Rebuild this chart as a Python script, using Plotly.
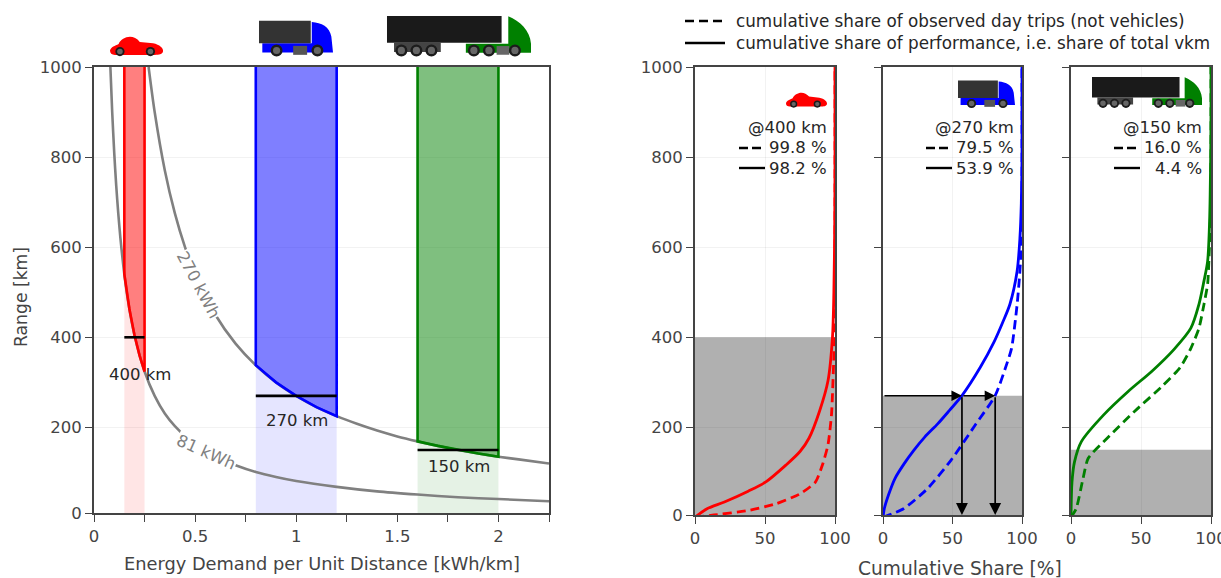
import plotly.graph_objects as go

W, H = 1221, 578
FONT = "DejaVu Sans"
AXC = "#444444"
TXT = "#262626"
GRID = "rgba(0,0,0,0.05)"

# ---------- data ----------
curve_270_x = [0.27,0.3,0.35,0.4,0.45,0.5,0.6,0.7,0.8,0.9,1.0,1.1,1.2,1.3,1.4,1.5,1.6,1.7,1.8,1.9,2.0,2.1,2.25]
curve_270_y = [1000,900,771,675,600,540,450,386,338,300,270,245,225,208,193,180,169,159,150,142,135,129,120]
curve_81_x = [0.081,0.09,0.1,0.11,0.12,0.13,0.15,0.17,0.2,0.25,0.3,0.35,0.4,0.5,0.6,0.7,0.8,0.9,1.0,1.2,1.4,1.6,1.8,2.0,2.25]
curve_81_y = [1000,900,810,736,675,623,540,476,405,324,270,231,203,162,135,116,101,90,81,68,58,51,45,41,36]

car_band_x = [0.15,0.15,0.175,0.2,0.225,0.25,0.25]
car_band_y = [1000,540,463,405,360,324,1000]
truck_band_x = [0.8,0.8,0.9,1.0,1.1,1.2,1.2]
truck_band_y = [1000,338,300,270,245,225,1000]
semi_band_x = [1.6,1.6,1.7,1.8,1.9,2.0,2.0]
semi_band_y = [1000,169,159,150,142,135,1000]

ranges_km = [400, 270, 150]
range_spans = [(0.15,0.25),(0.8,1.2),(1.6,2.0)]
colors = ["#ff0000","#0000ff","#008000"]

car_perf_x = [0,8.6,21,38,50.6,65,75,81.5,89,95,98.2,99.2,99.8,100,100]
car_perf_y = [0,19,34,58,78.5,116,146,176,236,303,400,500,650,800,1000]
car_trip_x = [0,13.5,38,58,75,86,91,95,97.5,99,99.8,100,100]
car_trip_y = [0,5,15,30,52,78,116,161,228,340,400,500,1000]

truck_perf_x = [0,1,4,8.6,15,22,30,39.5,48,56.8,70,80,86,91.3,96.5,98.5,99.5,100,100]
truck_perf_y = [0,20,50,86,118,148,178,208,238,270,333,390,432,473,547,620,696,800,1000]
truck_trip_x = [0,14.8,32,49,66.6,80.7,89,92.5,96.5,98.5,99.7,100,100]
truck_trip_y = [0,19,63.5,127,206,270,340,375,473,547,620,720,1000]

semi_perf_x = [0,0.7,2.5,7.4,23.5,41,58,73.6,85.6,91.4,95,97.6,99,99.8,100,100]
semi_perf_y = [0,78,123,168,228,280,325,373,420,473,525,569,658,810,900,1000]
semi_trip_x = [0,3.7,8.6,12.3,26,45.7,65.4,78,85.6,91.4,95,97.6,98.5,99.5,100,100]
semi_trip_y = [0,19,86,131,176,236,292,333,375,420,473,518,569,658,800,1000]

trip_share = ["99.8 %","79.5 %","16.0 %"]
perf_share = ["98.2 %","53.9 %","4.4 %"]

arrow_xs = [56.8, 80.7]
arrow_y = 270

left_xticks = [0,0.25,0.5,0.75,1,1.25,1.5,1.75,2,2.25]
left_xlabels = ["0","","0.5","","1","","1.5","","2",""]
y_labels = ["0","200","400","600","800","1000"]
left_y_ticks = [10,200,400,600,800,1000]    # the reference's lowest tick sits at the cut-off axis foot
share_y_ticks = [5,200,400,600,800,1000]
share_ticks = [0,50,100]

# ---------- helpers ----------
def px(x): return x / W
def py(y): return 1 - y / H

def rgba(hexc, a):
    return "rgba(%d,%d,%d,%s)" % (int(hexc[1:3],16), int(hexc[3:5],16), int(hexc[5:7],16), a)

fig = go.Figure()
shapes, annots = [], []

def text(x, y, s, size=16.5, anchor="center", color=TXT, angle=0, bg=None):
    annots.append(dict(xref="paper", yref="paper", x=px(x), y=py(y), text=s, showarrow=False,
                       xanchor=anchor, yanchor="middle", textangle=angle,
                       font=dict(family=FONT, size=size, color=color),
                       bgcolor=bg, borderpad=0))

def pline(x0, x1, y, dash=None, width=2.4):
    shapes.append(dict(type="line", xref="paper", yref="paper", x0=px(x0), x1=px(x1),
                       y0=py(y), y1=py(y), layer="above",
                       line=dict(color="black", width=width, dash=dash)))

class Icon:
    def __init__(self, ox, oy, scale, sx, sy):
        self.ox, self.oy, self.s, self.sx, self.sy = ox, oy, scale, sx, sy
    def X(self, v): return px(self.ox + (v - self.sx) * self.s)
    def Y(self, v): return py(self.oy + (v - self.sy) * self.s)
    def path(self, cmds, fill):
        out = []
        for c in cmds:
            out.append(c[0] + " " + " ".join(
                "%.5f,%.5f" % (self.X(c[i]), self.Y(c[i+1])) for i in range(1, len(c), 2)))
        shapes.append(dict(type="path", xref="paper", yref="paper", path=" ".join(out) + " Z",
                           fillcolor=fill, line=dict(width=0), layer="above"))
    def rect(self, x0, y0, x1, y1, fill):
        self.path([("M",x0,y0),("L",x1,y0),("L",x1,y1),("L",x0,y1)], fill)
    def circ(self, cx, cy, r, fill):
        shapes.append(dict(type="circle", xref="paper", yref="paper",
                           x0=self.X(cx-r), x1=self.X(cx+r), y0=self.Y(cy-r), y1=self.Y(cy+r),
                           fillcolor=fill, line=dict(width=0), layer="above"))
    def wheel(self, cx, cy, r):
        self.circ(cx, cy, r, "#1c1c1c")
        self.circ(cx, cy, r*0.6, "#666666")

def draw_car(left, top, scale):
    ic = Icon(left, top, scale, 30, 18)
    ic.path([("M",30,62),("C",33,50,45,48,56,42),("C",66,20,100,10,120,36),("L",160,40),
             ("C",180,44,192,55,190,65),("C",188,74,178,75,165,75),("L",45,75),("C",35,75,30,70,30,62)], "#ff0000")
    ic.wheel(60, 65, 14); ic.wheel(152, 65, 14)

def draw_truck(left, top, scale):
    ic = Icon(left, top, scale, 27, 30)
    ic.path([("M",186,36),("C",215,38,240,50,245,80),("L",250,128),("L",37,128),("L",37,100),("L",186,100)], "#0000ff")
    ic.rect(27, 32, 183, 100, "#333333")
    ic.rect(130, 108, 172, 135, "#555555")
    ic.wheel(80, 122, 18); ic.wheel(203, 122, 18)

def draw_semi(left, top, scale):
    ic = Icon(left, top, scale, 22, 32)
    ic.path([("M",385,33),("C",420,48,450,75,453,115),("L",453,142),("L",258,142),("L",258,115),("L",385,115)], "#008000")
    ic.rect(43, 112, 183, 140, "#444444")
    ic.rect(22, 32, 365, 112, "#1a1a1a")
    ic.rect(350, 122, 388, 148, "#666666")
    for cx in (65,110,155,282,327,405):
        ic.wheel(cx, 135, 18)

# ---------- left panel ----------
grid_axis = dict(showline=True, mirror=True, linecolor=AXC, linewidth=1.8, ticks="outside",
                 ticklen=7, tickwidth=1.4, tickcolor=AXC, zeroline=False, automargin=False,
                 ticklabeloverflow="allow",
                 tickfont=dict(family=FONT, size=16.5, color=AXC))

bands = [(car_band_x, car_band_y), (truck_band_x, truck_band_y), (semi_band_x, semi_band_y)]
for (bx, by), c in zip(bands, colors):
    low_y = [0] + by[1:-1] + [0]
    fig.add_trace(go.Scatter(x=bx, y=low_y, mode="lines", fill="toself", fillcolor=rgba(c, 0.1),
                             line=dict(width=0), hoverinfo="skip", showlegend=False))
for cx, cy in ((curve_270_x, curve_270_y), (curve_81_x, curve_81_y)):
    fig.add_trace(go.Scatter(x=cx, y=cy, mode="lines", line=dict(color="#808080", width=2.6, shape="spline", smoothing=0.7),
                             showlegend=False))
for (bx, by), c in zip(bands, colors):
    fig.add_trace(go.Scatter(x=bx, y=by, mode="lines", fill="toself", fillcolor=rgba(c, 0.5),
                             line=dict(color=c, width=2.6), showlegend=False))
for (a, b), r in zip(range_spans, ranges_km):
    fig.add_trace(go.Scatter(x=[a, b], y=[r, r], mode="lines", line=dict(color="black", width=2.6), showlegend=False))

# ---------- share panels ----------
share_data = [(car_perf_x, car_perf_y, car_trip_x, car_trip_y),
              (truck_perf_x, truck_perf_y, truck_trip_x, truck_trip_y),
              (semi_perf_x, semi_perf_y, semi_trip_x, semi_trip_y)]
for i, ((sx, sy, tx, ty), c, r) in enumerate(zip(share_data, colors, ranges_km)):
    ax = str(i + 2)
    fig.add_trace(go.Scatter(x=[0,100,100,0], y=[0,0,r,r], xaxis="x"+ax, yaxis="y"+ax, mode="lines",
                             fill="toself", fillcolor="rgba(0,0,0,0.31)", line=dict(width=0),
                             hoverinfo="skip", showlegend=False))
    fig.add_trace(go.Scatter(x=tx, y=ty, xaxis="x"+ax, yaxis="y"+ax, mode="lines", showlegend=False,
                             line=dict(color=c, width=2.8, dash="9px,5px", shape="spline", smoothing=0.6)))
    fig.add_trace(go.Scatter(x=sx, y=sy, xaxis="x"+ax, yaxis="y"+ax, mode="lines", showlegend=False,
                             line=dict(color=c, width=2.8, shape="spline", smoothing=0.8)))

# arrows in the truck panel
for ax_x in arrow_xs:
    annots.append(dict(xref="x3", yref="y3", axref="x3", ayref="y3", x=ax_x, y=5, ax=ax_x, ay=arrow_y,
                       text="", showarrow=True, arrowhead=2, arrowsize=1.4, arrowwidth=1.7, arrowcolor="black"))
prev = 0
for ax_x in arrow_xs:
    annots.append(dict(xref="x3", yref="y3", axref="x3", ayref="y3", x=ax_x, y=arrow_y, ax=prev, ay=arrow_y,
                       text="", showarrow=True, arrowhead=2, arrowsize=1.4, arrowwidth=1.5, arrowcolor="black"))
    prev = ax_x

# ---------- layout ----------
layout = dict(width=W, height=H, margin=dict(l=0, r=0, t=0, b=0, autoexpand=False), plot_bgcolor="white", paper_bgcolor="white",
              showlegend=False, font=dict(family=FONT, color=TXT))
layout["xaxis"] = dict(domain=[px(94), px(549)], range=[0, 2.25], tickvals=left_xticks, ticktext=left_xlabels,
                       showgrid=False, anchor="y", **grid_axis)
layout["yaxis"] = dict(domain=[py(513), py(67)], range=[10, 1000], tickvals=left_y_ticks, ticktext=y_labels,
                       showgrid=True, gridcolor=GRID, anchor="x", **grid_axis)
panels = [(695, 835), (883, 1022), (1071, 1211)]
for i, (a, b) in enumerate(panels):
    n = str(i + 2)
    layout["xaxis"+n] = dict(domain=[px(a), px(b)], range=[0, 100], tickvals=share_ticks, showgrid=True, gridcolor=GRID,
                             anchor="y"+n, **grid_axis)
    layout["yaxis"+n] = dict(domain=[py(515), py(67)], range=[5, 1000], tickvals=share_y_ticks, ticktext=y_labels,
                             showgrid=True, gridcolor=GRID, anchor="x"+n, showticklabels=(i == 0), **grid_axis)

# axis titles
text(322, 563, "Energy Demand per Unit Distance [kWh/km]", size=17.8, color=AXC)
text(21, 297, "Range [km]", size=17.2, color=AXC, angle=-90)
text(960, 568, "Cumulative Share [%]", size=18.6, color=AXC)

# text in the left panel
text(140, 374, "400 km")
text(297, 421, "270 km")
text(459, 466, "150 km")
text(199, 285, "270 kWh", color="#808080", angle=62, bg="white")
text(207, 452, "81 kWh", color="#808080", angle=24, bg="white")

# legend at the top right
pline(685, 725, 21, dash="9px,5px")
pline(685, 725, 43)
text(735, 21, "cumulative share of observed day trips (not vehicles)", size=16.8, anchor="left")
text(735, 43, "cumulative share of performance, i.e. share of total vkm", size=16.8, anchor="left")

# per-panel share text
rights = [828, 1015, 1203]
for r_km, t, s, rx in zip(ranges_km, trip_share, perf_share, rights):
    text(rx, 127, "@%d km" % r_km, anchor="right")
    text(rx, 148, t, anchor="right")
    text(rx, 168, s, anchor="right")
    lx = rx - 89
    pline(lx, lx + 26, 148, dash="9px,4px")
    pline(lx, lx + 26, 168)

# icons
draw_car(110, 36, 53/160)
draw_truck(259, 20, 74/223)
draw_semi(387, 16, 144/431)
draw_car(786, 92, 41/160)
draw_truck(958, 80, 57/223)
draw_semi(1092, 77, 110/431)

layout["shapes"] = shapes
layout["annotations"] = annots
fig.update_layout(**layout)
fig.write_html("out.html", post_script="document.body.style.margin='0';", config={"displayModeBar": False})
